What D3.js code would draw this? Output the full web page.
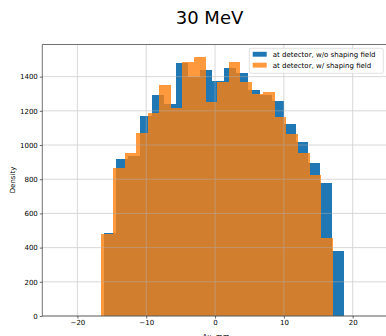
<!DOCTYPE html>
<html lang="en">
  <head>
    <meta charset="UTF-8" />
    <title>30 MeV</title>
    <script src="https://d3js.org/d3.v7.min.js"></script>
    <style>
      body { margin: 0; background: #fff; }
      text { font-family: "DejaVu Sans", sans-serif; fill: #000; }
    </style>
  </head>
  <body>
    <svg id="chart" width="386" height="336"></svg>
    <script>
      // bin edges and densities
      var blueEdges = [-16.1, -14.36, -12.61, -10.87, -9.12, -7.38, -5.63, -3.89, -2.14, -0.4,
        1.35, 3.1, 4.84, 6.59, 8.33, 10.08, 11.82, 13.57, 15.31, 17.06, 18.8];
      var blueValues = [485, 920, 936, 1170, 1290, 1238, 1478, 1400, 1440, 1375,
        1448, 1423, 1322, 1292, 1255, 1123, 1016, 893, 776, 382];

      var orangeEdges = [-16.5, -14.82, -13.14, -11.46, -9.78, -8.1, -6.42, -4.74, -3.06, -1.38,
        0.3, 1.98, 3.66, 5.34, 7.02, 8.7, 10.38, 12.06, 13.74, 15.42, 17.1];
      var orangeValues = [480, 864, 951, 1070, 1185, 1351, 1215, 1487, 1513, 1253,
        1370, 1487, 1370, 1300, 1308, 1166, 1062, 951, 825, 458];

      var xTicks = [-20, -10, 0, 10, 20];
      var yTicks = [0, 200, 400, 600, 800, 1000, 1200, 1400];
      var seriesNames = ["at detector, w/o shaping field", "at detector, w/ shaping field"];

      (function () {
        var svg = d3.select("#chart");
        var plotLeft = 42.3, plotRight = 387.8, plotTop = 44.5, plotBottom = 316;

        var x = d3.scaleLinear().domain([-25.1, 25.1]).range([plotLeft, plotRight]);
        var y = d3.scaleLinear().domain([0, 1588]).range([plotBottom, plotTop]);

        function bins(edges, values) {
          return values.map(function (v, i) {
            return { x0: edges[i], x1: edges[i + 1], v: v };
          });
        }

        function drawBars(data, color, opacity) {
          svg.append("g")
            .attr("shape-rendering", "crispEdges")
            .selectAll("rect")
            .data(data)
            .enter()
            .append("rect")
            .attr("x", function (d) { return x(d.x0); })
            .attr("width", function (d) { return x(d.x1) - x(d.x0); })
            .attr("y", function (d) { return y(d.v); })
            .attr("height", function (d) { return y(0) - y(d.v); })
            .attr("fill", color)
            .attr("fill-opacity", opacity);
        }

        drawBars(bins(blueEdges, blueValues), "#1f77b4", 1);
        drawBars(bins(orangeEdges, orangeValues), "#ff7f0e", 0.8);

        // grid on top of the bars
        var grid = svg.append("g").attr("stroke", "#b0b0b0").attr("stroke-width", 0.8).attr("opacity", 0.6);
        grid.selectAll(".gx").data(xTicks).enter().append("line")
          .attr("x1", function (d) { return x(d); })
          .attr("x2", function (d) { return x(d); })
          .attr("y1", plotTop).attr("y2", plotBottom);
        grid.selectAll(".gy").data(yTicks).enter().append("line")
          .attr("x1", plotLeft).attr("x2", plotRight)
          .attr("y1", function (d) { return y(d); })
          .attr("y2", function (d) { return y(d); });

        // axes
        var xAxis = svg.append("g")
          .attr("transform", "translate(0," + plotBottom + ")")
          .call(d3.axisBottom(x).tickValues(xTicks).tickSize(2.5).tickPadding(2)
            .tickFormat(function (d) { return d < 0 ? "\u2212" + Math.abs(d) : d; }));
        var yAxis = svg.append("g")
          .attr("transform", "translate(" + plotLeft + ",0)")
          .call(d3.axisLeft(y).tickValues(yTicks).tickSize(2.5).tickPadding(2)
            .tickFormat(d3.format("d")));

        [xAxis, yAxis].forEach(function (a) {
          a.select(".domain").remove();
          a.selectAll(".tick line").attr("stroke", "#000").attr("stroke-width", 0.6);
          a.selectAll(".tick text").attr("fill", "#000")
            .style("font-family", "DejaVu Sans").style("font-size", "7px");
        });

        // spines
        var spines = svg.append("g").attr("stroke", "#333").attr("stroke-width", 0.7).attr("fill", "none");
        spines.append("line").attr("x1", plotLeft).attr("x2", plotLeft).attr("y1", plotTop).attr("y2", plotBottom);
        spines.append("line").attr("x1", plotLeft).attr("x2", plotRight).attr("y1", plotBottom).attr("y2", plotBottom);
        spines.append("line").attr("x1", plotLeft).attr("x2", plotRight).attr("y1", plotTop).attr("y2", plotTop);
        spines.append("line").attr("x1", plotRight).attr("x2", plotRight).attr("y1", plotTop).attr("y2", plotBottom);

        // labels
        svg.append("text")
          .attr("x", 209.5).attr("y", 24)
          .attr("text-anchor", "middle")
          .style("font-size", "18px")
          .text("30 MeV");

        svg.append("text")
          .attr("x", 216).attr("y", 339)
          .attr("text-anchor", "middle")
          .style("font-size", "7px")
          .text("\u0394x, mm");

        svg.append("text")
          .attr("transform", "translate(15,180) rotate(-90)")
          .attr("text-anchor", "middle")
          .style("font-size", "7px")
          .text("Density");

        // legend
        var legend = svg.append("g");
        legend.append("rect")
          .attr("x", 249.3).attr("y", 48.3)
          .attr("width", 134).attr("height", 25)
          .attr("rx", 2)
          .attr("fill", "#fff").attr("fill-opacity", 0.8)
          .attr("stroke", "#ccc").attr("stroke-width", 0.6);

        var legendColors = [["#1f77b4", 1], ["#ff7f0e", 0.8]];
        var items = legend.selectAll(".item")
          .data(seriesNames)
          .enter()
          .append("g")
          .attr("transform", function (d, i) { return "translate(252.7," + (51.8 + i * 10.9) + ")"; });
        items.append("rect")
          .attr("width", 14).attr("height", 4.9)
          .attr("fill", function (d, i) { return legendColors[i][0]; })
          .attr("fill-opacity", function (d, i) { return legendColors[i][1]; });
        items.append("text")
          .attr("x", 20).attr("y", 4.9)
          .style("font-size", "7px")
          .text(function (d) { return d; });
      })();
    </script>
  </body>
</html>
